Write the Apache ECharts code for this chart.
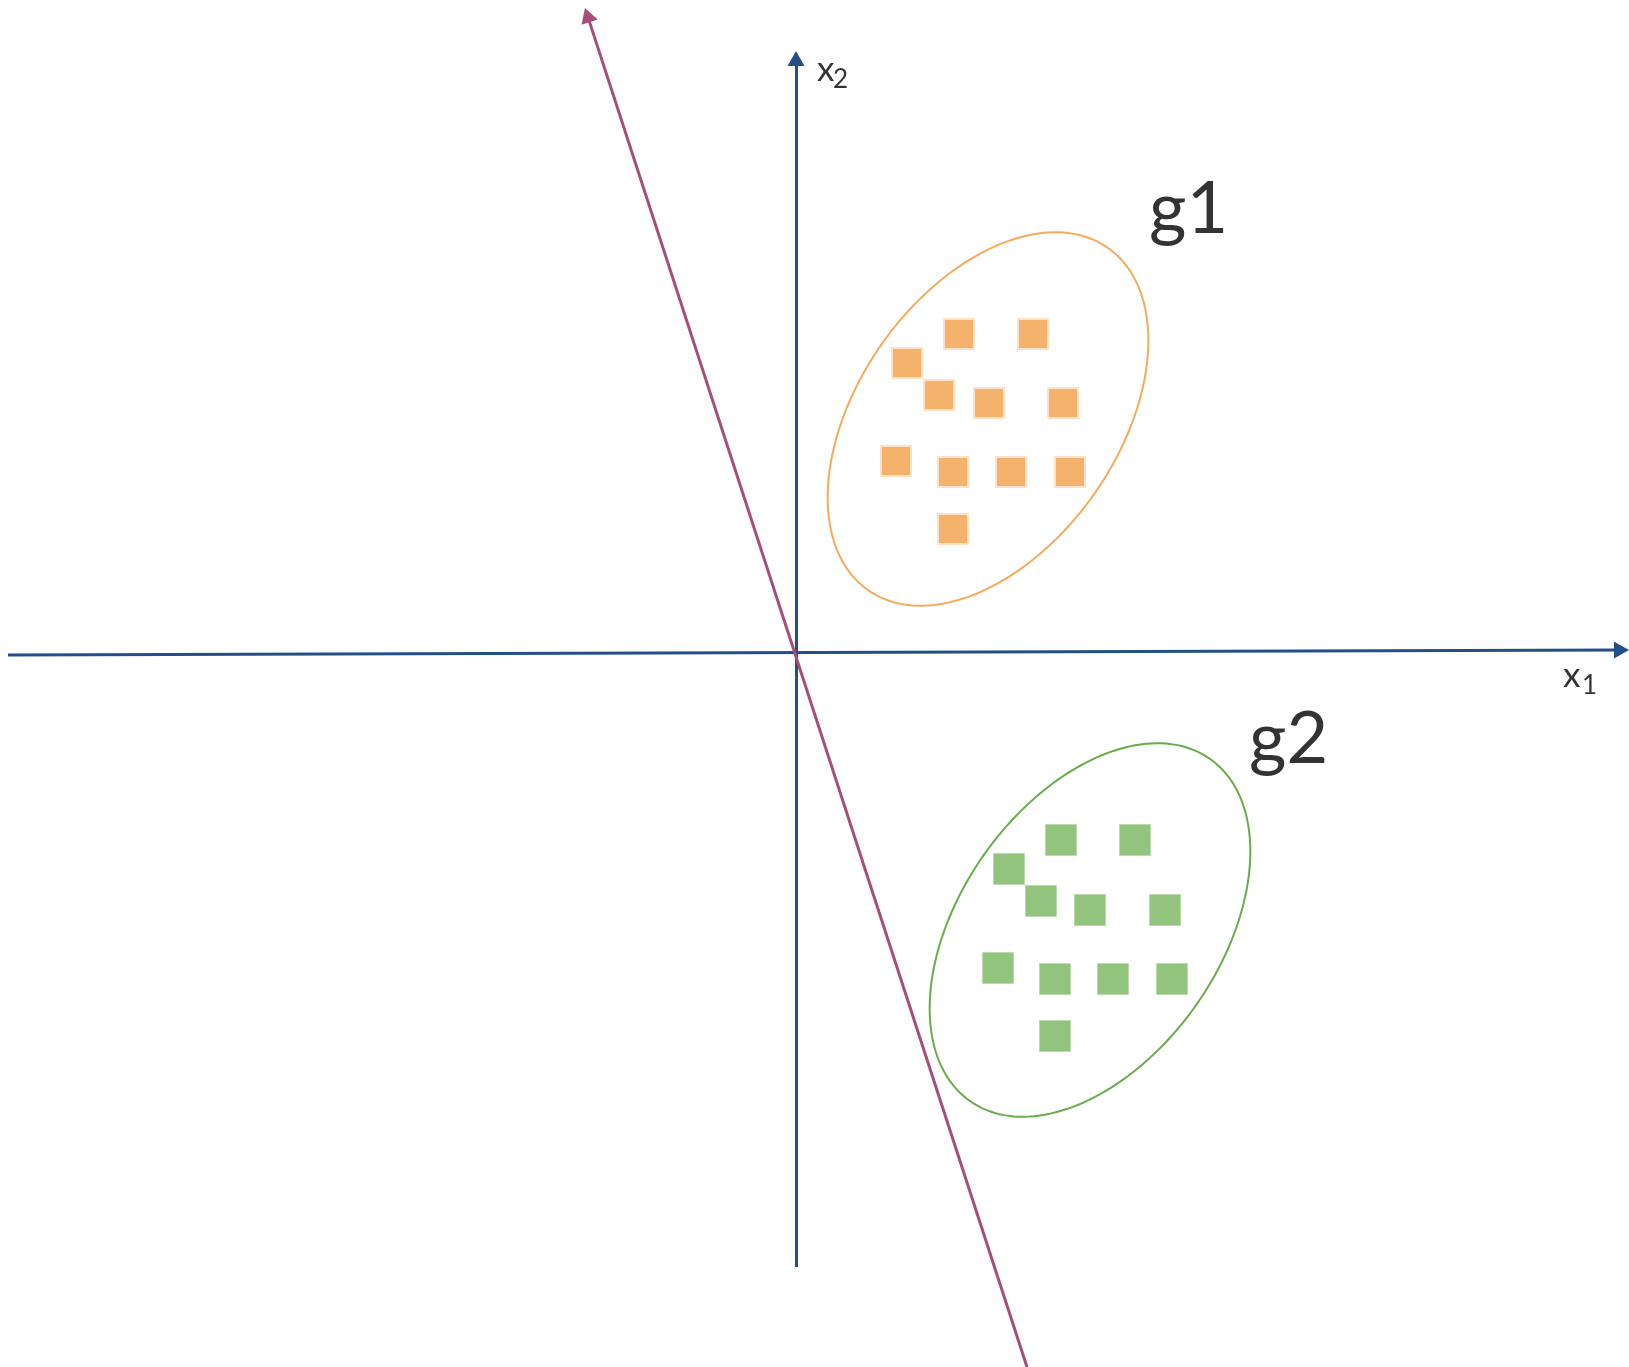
<!doctype html>
<html>
<head>
    <meta charset="utf-8">
    <title>g1 g2</title>
    <script type="text/javascript" src="https://cdn.jsdelivr.net/npm/echarts@6/dist/echarts.min.js"></script>
    <style>
        html, body { margin: 0; padding: 0; background: #fff; }
        #container { width: 1629px; height: 1367px; }
    </style>
</head>
<body>
<div id="container"></div>
<script type="text/javascript">
    /* data space: origin at axis crossing, x1 to the right, x2 upwards */
    var g1Points = [
        [163, 318], [237, 318], [111, 289], [143, 257], [193, 249], [267, 249],
        [100, 191], [157, 180], [215, 180], [274, 180], [157, 123]
    ];
    var g2Points = [
        [265, -188], [339, -188], [213, -217], [245, -249], [294, -258], [369, -258],
        [202, -316], [259, -327], [317, -327], [376, -327], [259, -384]
    ];
    // [cx, cy, semi-major, semi-minor, tilt in degrees]
    var g1Ellipse = [[192, 233, 209, 130, 55]];
    var g2Ellipse = [[294, -278, 209, 130, 55]];

    var axisX1 = [[-788, -3], [825.5, 2]];
    var axisX2 = [[0, -615], [0, 593.5]];
    var direction = [[231, -715], [-208.7, 636.9]];

    var groupNames = ['g1', 'g2'];
    var groupNameAt = [[353, 442], [453, -88]];
    var axisNames = ['x', 'x'];
    var axisNameAt = [[21, 582], [767, -24]];
    var axisSubs = ['2', '1'];
    var axisSubAt = [[37, 572], [786, -34]];

    var dom = document.getElementById("container");
    var myChart = echarts.init(dom);

    function named(names, at) {
        return names.map(function (n, i) {
            return {name: n, value: at[i]};
        });
    }

    function ellipseItem(params, api) {
        var cx = api.value(0), cy = api.value(1);
        var a = api.value(2), b = api.value(3);
        var th = api.value(4) * Math.PI / 180;
        var pts = [];
        for (var i = 0; i < 180; i++) {
            var t = i / 180 * 2 * Math.PI;
            pts.push(api.coord([
                cx + a * Math.cos(t) * Math.cos(th) - b * Math.sin(t) * Math.sin(th),
                cy + a * Math.cos(t) * Math.sin(th) + b * Math.sin(t) * Math.cos(th)
            ]));
        }
        return {
            type: 'polygon',
            shape: {points: pts},
            style: {fill: 'none', stroke: api.visual('color'), lineWidth: 2}
        };
    }

    function arrowLine(seg, color) {
        return {
            silent: true,
            symbol: ['none', 'triangle'],
            symbolSize: [17, 15],
            label: {show: false},
            lineStyle: {type: 'solid', width: 3, color: color},
            data: [[{coord: seg[0]}, {coord: seg[1]}]]
        };
    }

    function textSeries(data, size) {
        return {
            type: 'scatter',
            silent: true,
            symbolSize: 0,
            data: data,
            label: {
                show: true,
                position: [0, 0],
                align: 'left',
                verticalAlign: 'middle',
                formatter: '{b}',
                color: '#000',
                fontFamily: 'Lato',
                fontSize: size
            }
        };
    }

    var option = {
        backgroundColor: '#fff',
        animation: false,
        grid: {left: 0, right: 0, top: 0, bottom: 0},
        xAxis: {type: 'value', min: -796, max: 833, show: false},
        yAxis: {type: 'value', min: -715, max: 652, show: false},
        series: [
            {type: 'line', data: [], markLine: arrowLine(axisX1, '#234F86')},
            {type: 'line', data: [], markLine: arrowLine(axisX2, '#234F86')},
            {type: 'line', data: [], markLine: arrowLine(direction, '#A64D79')},
            {
                type: 'custom', silent: true, data: g1Ellipse,
                itemStyle: {color: '#F5AA5C'}, renderItem: ellipseItem
            },
            {
                type: 'custom', silent: true, data: g2Ellipse,
                itemStyle: {color: '#6AAB4C'}, renderItem: ellipseItem
            },
            {
                type: 'scatter', silent: true, symbol: 'rect', symbolSize: 30,
                data: g1Points,
                itemStyle: {color: '#F5B26C', borderColor: '#FCE3C8', borderWidth: 2, opacity: 1}
            },
            {
                type: 'scatter', silent: true, symbol: 'rect', symbolSize: 31,
                data: g2Points,
                itemStyle: {color: '#93C47D', borderColor: '#B9DBAB', borderWidth: 1, opacity: 1}
            },
            textSeries(named(groupNames, groupNameAt), 72),
            textSeries(named(axisNames, axisNameAt), 35),
            textSeries(named(axisSubs, axisSubAt), 26)
        ]
    };

    if (option && typeof option === "object") {
        myChart.setOption(option, true);
    }
</script>
</body>
</html>
